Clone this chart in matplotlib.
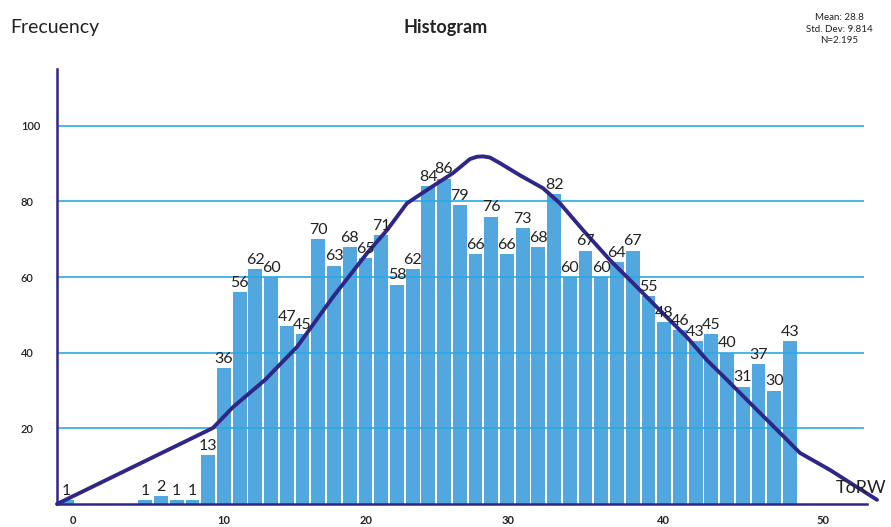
import matplotlib
matplotlib.use("Agg")
from matplotlib import pyplot as plt

plt.rcParams['font.family'] = ['Lato', 'DejaVu Sans']

# histogram data (bin position, count)
bins = [0, 5, 6, 7, 8, 9, 10, 11, 12, 13, 14, 15, 16, 17, 18, 19, 20, 21, 22,
        23, 24, 25, 26, 27, 28, 29, 30, 31, 32, 33, 34, 35, 36, 37, 38, 39, 40,
        41, 42, 43, 44, 45, 46]
counts = [1, 1, 2, 1, 1, 13, 36, 56, 62, 60, 47, 45, 70, 63, 68, 65, 71, 58, 62,
          84, 86, 79, 66, 76, 66, 73, 68, 82, 60, 67, 60, 64, 67, 55, 48, 46, 43,
          45, 40, 31, 37, 30, 43]

# fitted curve
curve_x = [-0.62, 9.30, 10.57, 12.61, 14.64, 16.93, 19.10, 20.37, 21.64, 22.91,
           24.57, 25.65, 26.09, 26.48, 26.92, 27.56, 28.83, 30.29, 31.37, 32.84,
           34.55, 36.02, 37.54, 39.45, 40.73, 42.00, 43.27, 45.37, 46.64, 48.55,
           51.54]
curve_y = [0.0, 20.1, 25.6, 32.8, 41.5, 54.7, 66.3, 72.4, 79.5, 83.0,
           87.5, 91.2, 91.8, 91.9, 91.6, 90.1, 86.9, 83.5, 79.5, 72.4,
           64.5, 58.4, 52.0, 44.1, 38.0, 32.8, 27.5, 18.8, 13.5, 9.0,
           1.1]

# axis labels
xtick_labels = ['0', '10', '20', '30', '40', '50']
xtick_pos = [0.39, 10.0, 19.03, 28.07, 37.93, 48.11]
ytick_vals = [20, 40, 60, 80, 100]

bar_col = '#52a7de'
grid_col = '#2aaae2'
navy = '#2e2787'
txt_col = '#222222'

W, H = 891, 527
fig = plt.figure(figsize=(W/100, H/100), dpi=100)
ax = fig.add_axes([57/W, 23/H, (W-57)/W, (504-69)/H])
xmin, xmax = -0.62, 52.43
ax.set_xlim(xmin, xmax)
ax.set_ylim(0, 115)

ax.bar(bins, counts, width=0.88, color=bar_col, zorder=1)
ax.hlines(ytick_vals, xmin, 50.71, color=grid_col, lw=1.2, zorder=2)
ax.plot(curve_x, curve_y, color=navy, lw=2.8, solid_joinstyle='round',
        solid_capstyle='round', zorder=3, clip_on=False)

for b, c in zip(bins, counts):
	ax.text(b, c + 0.6, str(c), ha='center', va='bottom', fontsize=11.5,
	        color=txt_col, zorder=4)

for s in ['top', 'right']:
	ax.spines[s].set_visible(False)
ax.spines['left'].set_color(navy)
ax.spines['left'].set_linewidth(1.8)
ax.spines['bottom'].set_color(navy)
ax.spines['bottom'].set_linewidth(1.8)
ax.spines['bottom'].set_bounds(xmin, 50.9)

ax.set_xticks(xtick_pos, xtick_labels)
ax.tick_params(axis='x', length=0, pad=8, labelsize=8, labelcolor=txt_col)
for lab in ax.get_xticklabels():
	lab.set_fontweight('bold')

ax.set_yticks(ytick_vals, [str(v) for v in ytick_vals])
ax.tick_params(axis='y', length=0, pad=26, labelsize=8, labelcolor=txt_col)
for lab in ax.get_yticklabels():
	lab.set_horizontalalignment('left')
	lab.set_fontweight('semibold')

ax.text(48.9, 4.2, 'ToRW', fontsize=13, color=txt_col, va='center',
        ha='left', clip_on=False, zorder=4)

fig.text(10/W, 1 - 28/H, 'Frecuency', fontsize=14, color=txt_col,
         ha='left', va='center')
fig.text(446/W, 1 - 28/H, 'Histogram', fontsize=13, fontweight='bold',
         color=txt_col, ha='center', va='center')
fig.text(839/W, 1 - 29/H, 'Mean: 28.8\nStd. Dev: 9.814\nN=2.195', fontsize=7,
         color=txt_col, ha='center', va='center', linespacing=1.35)

fig.savefig('out.png', dpi=100)
